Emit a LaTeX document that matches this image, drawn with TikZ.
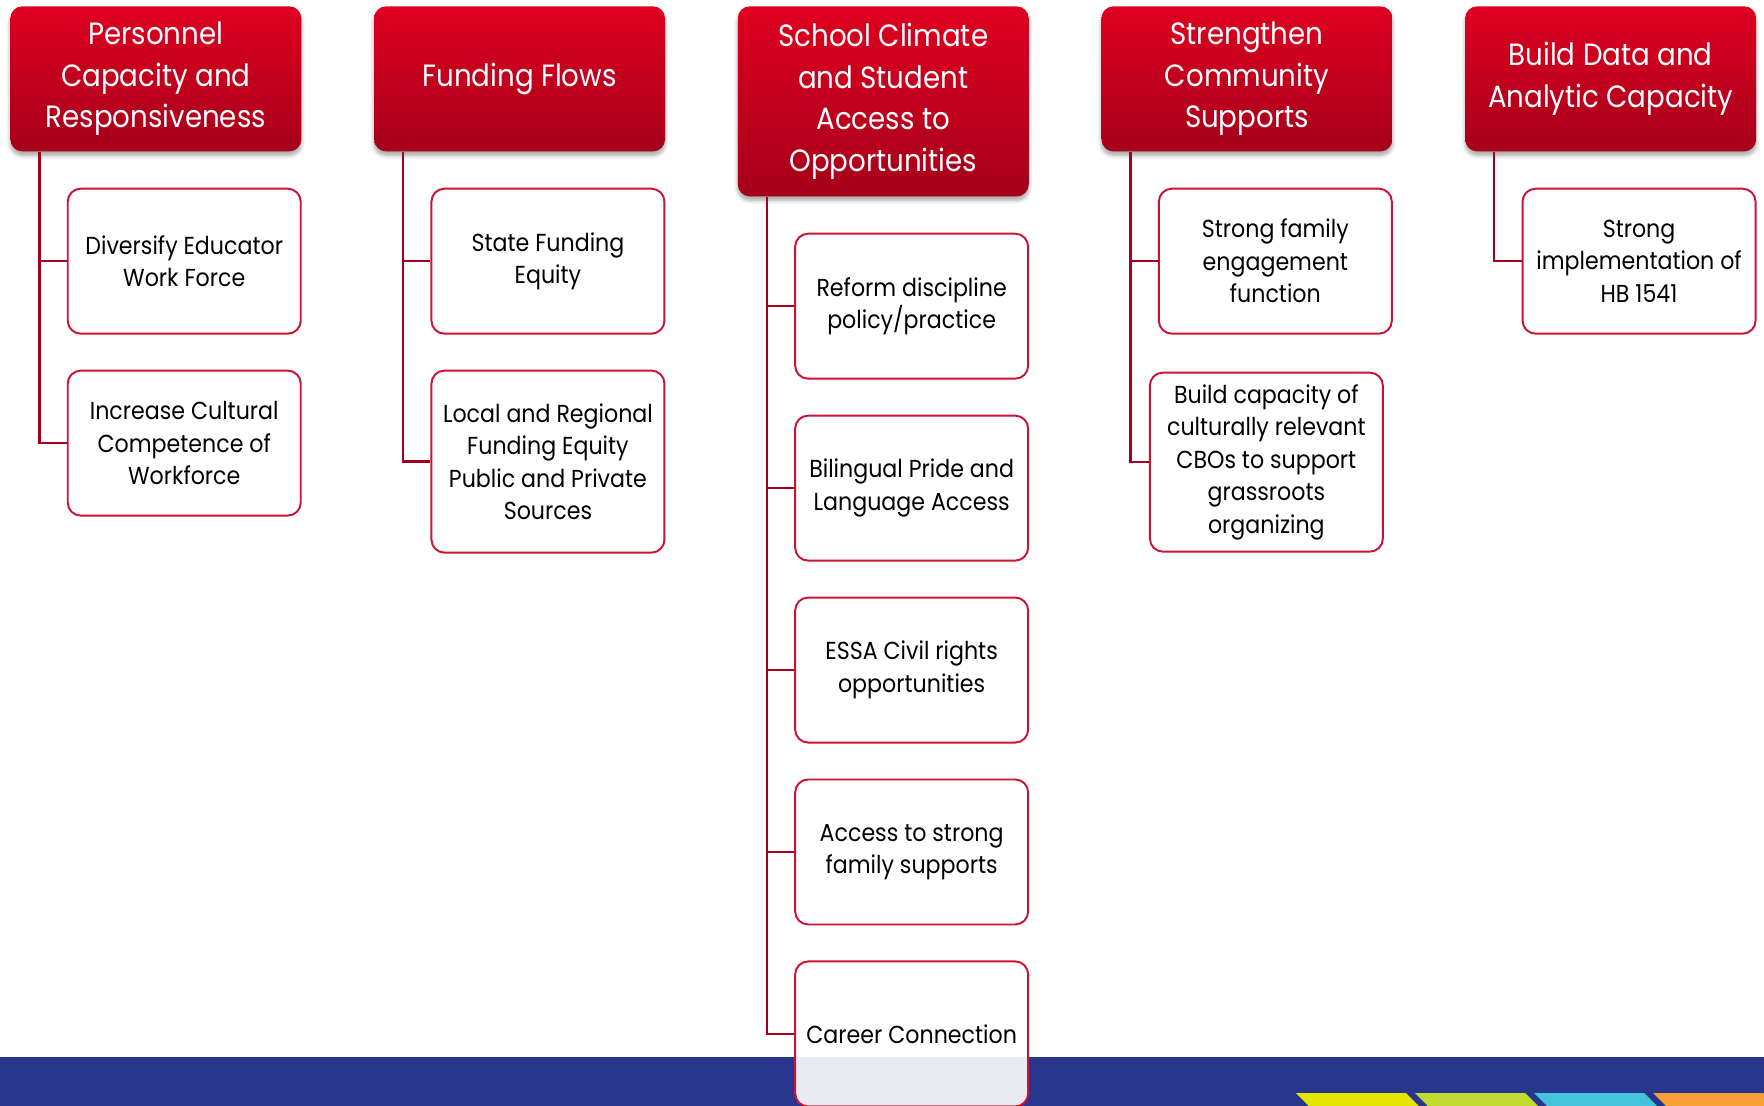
\documentclass[tikz,border=0pt]{standalone}
\usepackage{fontspec}
\setmainfont{Poppins}[FakeStretch=0.9]
\usetikzlibrary{
  calc,
  positioning,
  shadows.blur,
}
\definecolor{hdrtop}{HTML}{DF0020}
\definecolor{hdrbot}{HTML}{A5001B}
\definecolor{boxred}{HTML}{CC1233}
\definecolor{linkred}{HTML}{A3001F}
\definecolor{barblue}{HTML}{28368E}
\definecolor{stripeyellow}{HTML}{E2E600}
\definecolor{stripegreen}{HTML}{C2D92F}
\definecolor{stripecyan}{HTML}{45C3DD}
\definecolor{stripeorange}{HTML}{F7A036}

\begin{document}
\begin{tikzpicture}[
  head/.style={rounded corners=0.24cm, top color=hdrtop, bottom color=hdrbot, draw=none,
    minimum width=5.82cm, minimum height=2.9cm, align=center, text=white, inner sep=2pt,
    font=\fontsize{17.5}{23.7}\selectfont,
    blur shadow={shadow xshift=0pt, shadow yshift=-0.08cm, shadow opacity=35, shadow blur steps=6}},
  item/.style={rounded corners=0.26cm, draw=boxred, line width=1.1pt, fill=white,
    minimum width=4.66cm, minimum height=2.9cm, align=center, inner sep=2pt,
    font=\fontsize{14}{18.5}\selectfont},
  link/.style={draw=linkred, line width=1.3pt},
]
\useasboundingbox (0,0) rectangle (35.28,-22.1);
\clip (0,0) rectangle (35.28,-22.1);

% bottom band
\fill[barblue] (0,-21.14) rectangle (35.28,-22.2);
\foreach \c [count=\i from 0] in {stripeyellow,stripegreen,stripecyan,stripeorange}
  \fill[\c] ({25.92+2.38*\i},-21.86) -- ++(2.2,0) -- ++(0.26,-0.26) -- ++(-2.2,0) -- cycle;

% column heads
\node[head, anchor=north west] (h1) at (0.2,-0.12) {Personnel\\Capacity and\\Responsiveness};
\node[head, right=1.44cm of h1.north east, anchor=north west] (h2) {Funding Flows};
\node[head, right=1.44cm of h2.north east, anchor=north west, minimum height=3.8cm] (h3)
  {School Climate\\and Student\\Access to\\Opportunities};
\node[head, right=1.44cm of h3.north east, anchor=north west] (h4) {Strengthen\\Community\\Supports};
\node[head, right=1.44cm of h4.north east, anchor=north west] (h5) {Build Data and\\Analytic Capacity};

% first column
\node[item, below=0.72cm of h1.south east, anchor=north east] (c11) {Diversify Educator\\Work Force};
\node[item, below=0.7cm of c11] (c12) {Increase Cultural\\Competence of\\Workforce};

% second column
\node[item, below=0.72cm of h2.south east, anchor=north east] (c21) {State Funding\\Equity};
\node[item, below=0.7cm of c21, minimum height=3.64cm] (c22)
  {Local and Regional\\Funding Equity\\Public and Private\\Sources};

% third column
\node[item, below=0.72cm of h3.south east, anchor=north east] (c31) {Reform discipline\\policy/practice};
\node[item, below=0.7cm of c31] (c32) {Bilingual Pride and\\Language Access};
\node[item, below=0.7cm of c32] (c33) {ESSA Civil rights\\opportunities};
\node[item, below=0.7cm of c33] (c34) {Access to strong\\family supports};
\node[item, below=0.7cm of c34, fill opacity=0.9, text opacity=1] (c35) {Career Connection};

% fourth column
\node[item, below=0.72cm of h4.south east, anchor=north east] (c41) {Strong family\\engagement\\function};
\node[item, below=0.74cm of c41, xshift=-0.18cm, minimum height=3.58cm] (c42)
  {Build capacity of\\culturally relevant\\CBOs to support\\grassroots\\organizing};

% fifth column
\node[item, below=0.72cm of h5.south east, anchor=north east] (c51) {Strong\\implementation of\\HB 1541};

% trunks
\foreach \h in {1,...,5}
  \coordinate (t\h) at ([xshift=0.59cm]h\h.south west);
\foreach \h/\c in {1/c11,1/c12,2/c21,2/c22,3/c31,3/c32,3/c33,3/c34,3/c35,4/c41,4/c42,5/c51}
  \draw[link] (t\h) |- (\c.west);
\end{tikzpicture}
\end{document}
